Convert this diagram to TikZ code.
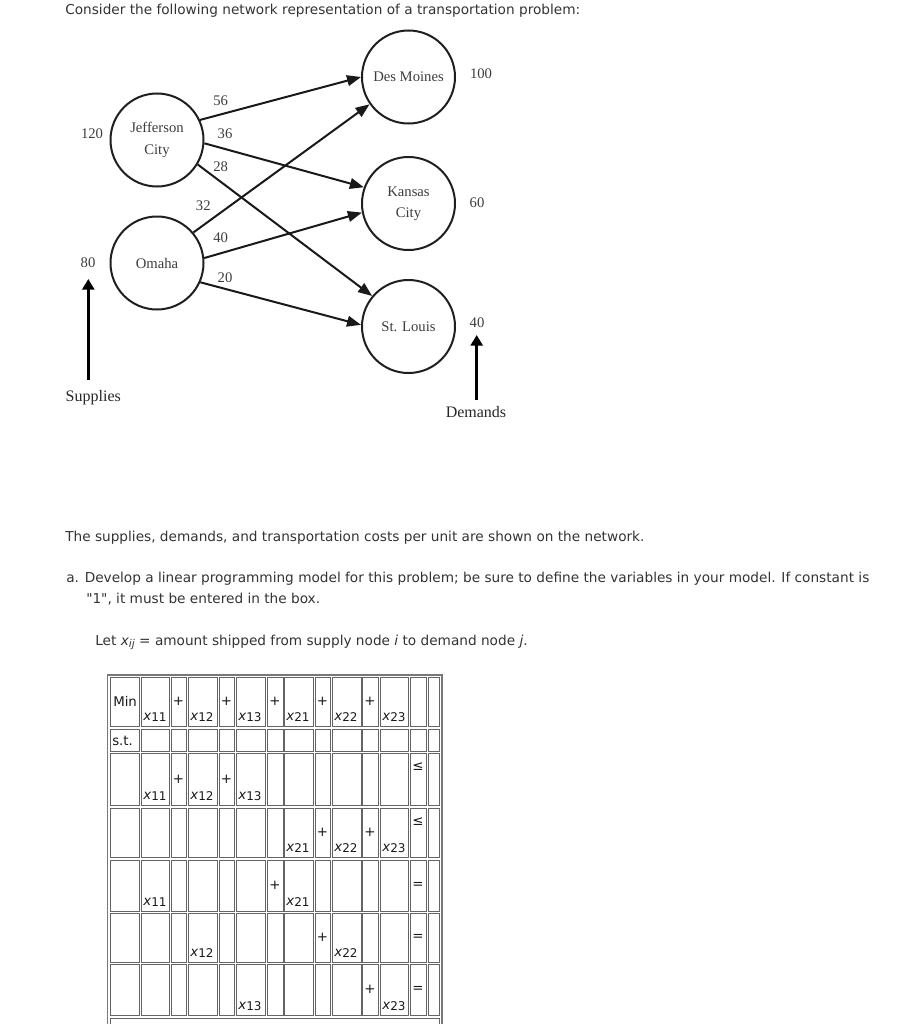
\documentclass[tikz,border=0pt]{standalone}
\usepackage{fontspec}
\setmainfont{Liberation Serif}
\newfontfamily\verd{DejaVu Sans}
\usetikzlibrary{arrows.meta}
\definecolor{txt}{RGB}{51,51,51}
\definecolor{dtxt}{RGB}{60,60,60}
\definecolor{cellb}{RGB}{100,100,100}
\definecolor{outb}{RGB}{120,120,120}
\newcommand\xv[1]{\textit{x}\raisebox{-1.1pt}{\fontsize{9}{9}\selectfont #1}}
\begin{document}
\begin{tikzpicture}[x=0.75pt,y=-0.75pt,
  city/.style={circle,draw=black!88,line width=1.5pt,minimum size=69.75pt,inner sep=0pt,align=center,font=\fontsize{11}{16}\selectfont,text=dtxt},
  lbl/.style={font=\fontsize{11}{13}\selectfont,text=dtxt,inner sep=0pt},
  big/.style={font=\fontsize{12}{14}\selectfont,text=black!85,inner sep=0pt},
  flow/.style={line width=1.5pt,draw=black!90,-{Triangle[length=10.5pt,width=8pt]}},
  sd/.style={line width=2.3pt,draw=black,-{Triangle[length=8pt,width=9pt]}},
  para/.style={font=\verd\fontsize{10.25}{12}\selectfont,text=txt,inner sep=0pt,anchor=base west},
  ctext/.style={font=\verd\fontsize{10}{12}\selectfont,text=black!90,inner sep=0pt},
  cellbox/.style={draw=cellb,line width=0.75pt},
]
\useasboundingbox (0,0) rectangle (920,1024);
\clip (0,0) rectangle (920,1024);

% ---------- text ----------
\node[para] (t1) at (65,15) {Consider the following network representation of a transportation problem:};
\node[para] (t2) at (65,541.5) {The supplies, demands, and transportation costs per unit are shown on the network.};
\node[para] (t3) at (66,582) {a. Develop a linear programming model for this problem; be sure to define the variables in your model. If constant is};
\node[para] (t4) at (86,603) {"1", it must be entered in the box.};
\node[para] (t5) at (95,645) {Let \textit{x}\raisebox{-2pt}{\fontsize{8}{8}\selectfont\textit{ij}} = amount shipped from supply node \textit{i} to demand node \textit{j}.};

% ---------- network ----------
\node[city] (jc) at (157,140) {Jefferson\\City};
\node[city] (om) at (157,263) {Omaha};
\node[city] (dm) at (408.5,77) {Des Moines};
\node[city] (kc) at (408.5,203.5) {Kansas\\City};
\node[city] (sl) at (408.5,326.5) {St. Louis};

\draw[flow] (jc.25) -- (dm.180);
\draw[flow] (jc.-4) -- (kc.160);
\draw[flow] (jc.-31) -- (sl.140);
\draw[flow] (om.40) -- (dm.215);
\draw[flow] (om.6) -- (kc.191);
\draw[flow] (om.-24) -- (sl.178);

\node[lbl] (c56) at (220.7,100.7) {56};
\node[lbl] (c36) at (225,134) {36};
\node[lbl] (c28) at (220.7,166.7) {28};
\node[lbl] (c32) at (203.3,206) {32};
\node[lbl] (c40) at (220.7,237.3) {40};
\node[lbl] (c20) at (225,277.3) {20};

\node[lbl] (s120) at (92,134) {120};
\node[lbl] (s80) at (88,263) {80};
\node[lbl] (d100) at (481,74) {100};
\node[lbl] (d60) at (477,203) {60};
\node[lbl] (d40) at (477,323) {40};

\coordinate (supbot) at (88.3,380);
\coordinate (suptop) at (88.3,279);
\coordinate (dembot) at (476.7,400);
\coordinate (demtop) at (476.7,335);
\draw[sd] (supbot) -- (suptop);
\draw[sd] (dembot) -- (demtop);
\node[big] (supl) at (93.3,397.7) {Supplies};
\node[big] (deml) at (476,411.7) {Demands};

% ---------- table ----------
\draw[draw=outb,line width=1.2pt] (107.5,675) rectangle (442,1040);
\foreach \a/\b in {110/139,141/169,171/186,188/217,219/234,236/265,267/283,284/313,315/330,332/361,362/378,380/408,410/426,428/439}{
  \foreach \t/\u in {677/726,729/751,753/805,808/857,860/911,913/962,964/1015}{
    \draw[cellbox] (\a,\t) rectangle (\b,\u);
  }
}
\draw[cellbox] (110,1018) rectangle (439,1040);

% row 1
\node[ctext,anchor=base west] (r1min) at (113,706) {Min};
\node[ctext,anchor=base west] (r1x11) at (143,720) {\xv{11}};
\node[ctext] (r1p1) at (178.5,701.5) {+};
\node[ctext,anchor=base west] (r1x12) at (190,720) {\xv{12}};
\node[ctext] (r1p2) at (226.5,701.5) {+};
\node[ctext,anchor=base west] (r1x13) at (238,720) {\xv{13}};
\node[ctext] (r1p3) at (275,701.5) {+};
\node[ctext,anchor=base west] (r1x21) at (286,720) {\xv{21}};
\node[ctext] (r1p4) at (322.5,701.5) {+};
\node[ctext,anchor=base west] (r1x22) at (334,720) {\xv{22}};
\node[ctext] (r1p5) at (370,701.5) {+};
\node[ctext,anchor=base west] (r1x23) at (382,720) {\xv{23}};
% row 2
\node[ctext,anchor=base west] (r2st) at (112,745) {s.t.};
% row 3
\node[ctext,anchor=base west] (r3x11) at (143,799) {\xv{11}};
\node[ctext] (r3p1) at (178.5,779) {+};
\node[ctext,anchor=base west] (r3x12) at (190,799) {\xv{12}};
\node[ctext] (r3p2) at (226.5,779) {+};
\node[ctext,anchor=base west] (r3x13) at (238,799) {\xv{13}};
\node[ctext] (r3le) at (418,767) {≤};
% row 4
\node[ctext,anchor=base west] (r4x21) at (286,851) {\xv{21}};
\node[ctext] (r4p1) at (322.5,832.5) {+};
\node[ctext,anchor=base west] (r4x22) at (334,851) {\xv{22}};
\node[ctext] (r4p2) at (370,832.5) {+};
\node[ctext,anchor=base west] (r4x23) at (382,851) {\xv{23}};
\node[ctext] (r4le) at (418,822) {≤};
% row 5
\node[ctext,anchor=base west] (r5x11) at (143,905) {\xv{11}};
\node[ctext] (r5p1) at (275,885.5) {+};
\node[ctext,anchor=base west] (r5x21) at (286,905) {\xv{21}};
\node[ctext] (r5eq) at (418,885.5) {=};
% row 6
\node[ctext,anchor=base west] (r6x12) at (190,956) {\xv{12}};
\node[ctext] (r6p1) at (322.5,937.5) {+};
\node[ctext,anchor=base west] (r6x22) at (334,956) {\xv{22}};
\node[ctext] (r6eq) at (418,937.5) {=};
% row 7
\node[ctext,anchor=base west] (r7x13) at (238,1009) {\xv{13}};
\node[ctext] (r7p1) at (370,989.5) {+};
\node[ctext,anchor=base west] (r7x23) at (382,1009) {\xv{23}};
\node[ctext] (r7eq) at (418,989.5) {=};
\end{tikzpicture}
\end{document}
